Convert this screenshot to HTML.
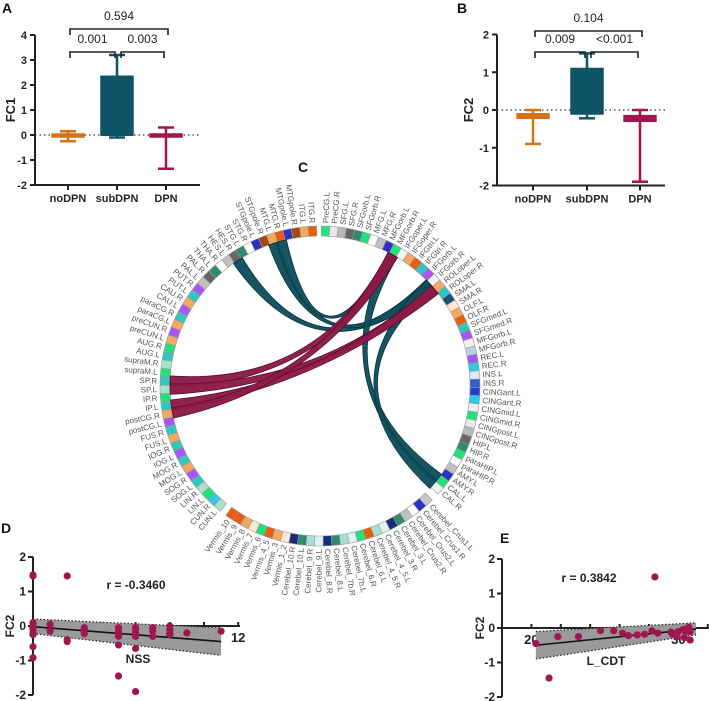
<!DOCTYPE html>
<html><head><meta charset="utf-8">
<style>
html,body{margin:0;padding:0;background:#fff;}
svg{display:block;font-family:"Liberation Sans",Arial,sans-serif;}
.t{font-weight:bold;font-size:11px;fill:#222;}
.ttl{font-weight:bold;font-size:14px;fill:#111;}
.lab{font-size:8px;fill:#555;}
</style></head>
<body>
<svg id="fig" width="709" height="701" viewBox="0 0 709 701" xmlns="http://www.w3.org/2000/svg">
<g id="gA"></g>
<g id="gB"></g>
<g id="gC"></g>
<g id="gD"></g>
<g id="gE"></g>
</svg>
<script>
// ---------- Panel A/B data ----------
const groups = ["noDPN","subDPN","DPN"];
const groupColors = ["#d4731a","#0f5466","#a0174f"];
const fc1Min = [-0.25,-0.1,-1.35];
const fc1Q1 = [-0.1,0.0,-0.05];
const fc1Med = [-0.05,0.0,-0.02];
const fc1Q3 = [0.0,2.35,0.0];
const fc1Max = [0.15,3.2,0.3];
const fc1Ticks = [-2,-1,0,1,2,3,4];
const fc1P = ["0.001","0.003","0.594"];
const fc2Min = [-0.9,-0.22,-1.9];
const fc2Q1 = [-0.22,-0.1,-0.3];
const fc2Med = [-0.15,-0.1,-0.2];
const fc2Q3 = [-0.1,1.1,-0.15];
const fc2Max = [0.0,1.5,0.0];
const fc2Ticks = [-2,-1,0,1,2];
const fc2P = ["0.009","<0.001","0.104"];
// ---------- Panel D/E data ----------
const nssX = [0,0,0,0,0,0,0,0,0,0,1,1,2,2,2,3,3,3,5,5,5,5,5,5,6,6,6,6,6,6,7,7,7,8,8,8,8,9,11];
const nssY = [1.48,1.45,0.1,0.0,-0.05,-0.1,-0.2,-0.25,-0.6,-0.92,0.05,-0.15,1.45,-0.4,-0.45,-0.05,-0.1,-0.22,-0.05,-0.15,-0.2,-0.3,-0.55,-1.45,-0.05,-0.1,-0.2,-0.3,-0.65,-1.9,-0.05,-0.15,-0.3,0.0,-0.1,-0.2,-0.25,-0.2,-0.15];
const nssFit = [[0,-0.02],[11,-0.45]];
const nssBandUp = [[0,0.2],[11,-0.05]];
const nssBandLo = [[0,-0.22],[11,-0.85]];
const nssTicks = [0,2,4,6,8,10,12];
const nssTickLabels = ["","2","4","6","8","10","12"];
const cdtX = [20.3,21.2,21.8,23.2,24.7,25.6,26.2,26.6,27.2,27.7,28.2,28.4,28.6,29.5,29.6,29.9,30.0,30.3,30.4,30.5,30.7,30.8,30.8,30.5];
const cdtY = [-0.45,-1.45,-0.25,-0.25,-0.08,-0.08,-0.15,-0.22,-0.2,-0.18,-0.08,1.48,-0.15,-0.12,-0.18,-0.25,-0.1,-0.05,-0.28,-0.1,0.02,-0.1,-0.35,-0.03];
const cdtFit = [[20.3,-0.5],[31.2,-0.03]];
const cdtBandUp = [[20.3,-0.1],[31.2,0.15]];
const cdtBandLo = [[20.3,-0.9],[31.2,-0.2]];
const cdtTicks = [20,22,24,26,28,30,32];
const cdtTickLabels = ["20","","25","","","30",""];
const yTicksSc = [-2,-1,0,1,2];
// ---------- Panel C data ----------
const rightRegions = ["PreCG.L","PreCG.R","SFG.L","SFG.R","SFGorb.L","SFGorb.R","MFG.L","MFG.R","MFGorb.L","MFGorb.R","IFGoper.L","IFGoper.R","IFGtri.L","IFGtri.R","IFGorb.L","IFGorb.R","ROLoper.L","ROLoper.R","SMA.L","SMA.R","OLF.L","OLF.R","SFGmed.L","SFGmed.R","MFGorb.L","MFGorb.R","REC.L","REC.R","INS.L","INS.R","CINGant.L","CINGant.R","CINGmid.L","CINGmid.R","CINGpost.L","CINGpost.R","HIP.L","HIP.R","paraHIP.L","paraHIP.R","AMY.L","AMY.R","CAL.L","CAL.R"];
const cereRegions = ["Cerebel_Crus1.L","Cerebel_Crus1.R","Cerebel_Crus2.L","Cerebel_Crus2.R","Cerebel_3.L","Cerebel_3.R","Cerebel_4_5.L","Cerebel_4_5.R","Cerebel_6.L","Cerebel_6.R","Cerebel_7b.L","Cerebel_7b.R","Cerebel_8.L","Cerebel_8.R","Cerebel_9.L","Cerebel_9.R","Cerebel_10.L","Cerebel_10.R","Vermis_1_2","Vermis_3","Vermis_4_5","Vermis_6","Vermis_7","Vermis_8","Vermis_9","Vermis_10"];
const leftRegions = ["CUN.L","CUN.R","LIN.L","LIN.R","SOG.L","SOG.R","MOG.L","MOG.R","IOG.L","IOG.R","FUS.L","FUS.R","postCG.L","postCG.R","IP.L","IP.R","SP.L","SP.R","supraM.L","supraM.R","AUG.L","AUG.R","preCUN.L","preCUN.R","paraCG.L","paraCG.R","CAU.L","CAU.R","PUT.L","PUT.R","PAL.L","PAL.R","THA.L","THA.R","HES.L","HES.R","STG.L","STG.R","STGpole.L","STGpole.R","MTG.L","MTG.R","MTGpole.L","MTGpole.R","ITG.L","ITG.R"];
const segColors = ["#1fe37a","#e8e8e8","#b8b8b8","#666666","#2e8b6e","#1fe37a","#ffffff","#c0c0c0","#2e2ec8","#1fe37a","#f0f0f0","#f4a860","#e85d10","#2ec8c0","#a855f7","#f5f5f5","#f4a860","#2ec8c0","#1f4f7a","#ffe8d0","#f4a860","#e85d10","#2ec8c0","#a855f7","#f5f0e8","#b8d0e8","#a855f7","#2ec8e0","#d8e8f8","#3060c0","#2040d0","#20d0e8","#f0f0f0"];
const leftColors = ["#a8e0c8","#2ec8e0","#1fe37a","#a8e0c8","#2ec8c0","#a855f7","#f4a860","#2ec8c0","#a855f7","#2ec8c0","#f4a860","#2ec8c0","#a855f7","#f4a860","#2ec8c0","#1fe37a","#a8e0c8","#2ec8c0","#1fe37a","#a8e0c8","#2ec8c0","#1fe37a","#f4a860","#a855f7","#f4a860","#2ec8c0","#a855f7","#f4a860","#2ec8c0","#a855f7","#c0c0c0","#666666","#2e8b6e","#ffffff","#c0c0c0","#666666","#2e8b6e","#ffffff","#2e2ec8","#a34a10","#f4a860","#e85d10","#2e2ec8","#a34a10","#f4a860","#e85d10"];
const cereColors = ["#c8c8c8","#2e2ec8","#ffffff","#c0c0c0","#2e8b6e","#1a2a7a","#e0f0f0","#a8e0d0","#e85d10","#1fe37a","#e0f0f8","#a8e0d0","#2e8b6e","#1a2a7a","#e0f0f0","#a8e0d0","#2e8b6e","#1a2a7a","#ffe8d0","#f4a860","#e85d10","#1fe37a","#ffe8d0","#f4a860","#e85d10","#e85d10"];
const chordFrom = ["HES.R","MTG.L","MTG.R","MFGorb.R","IFGorb.R","SP.R","SP.L","IP.L","postCG.R"];
const chordTo   = ["IFGorb.R","IFGorb.R","MFGorb.R","CAL.L","CAL.R","MFGorb.R","ROLoper.L","ROLoper.L","MFGorb.R"];
const chordType = [0,0,0,0,0,1,1,1,1];

const NS="http://www.w3.org/2000/svg";
function mk(tag, attrs, parent){const e=document.createElementNS(NS,tag);for(const k in attrs)e.setAttribute(k,attrs[k]);parent.appendChild(e);return e;}
function txt(parent,x,y,s,cls,anchor){const e=mk("text",{x:x,y:y,class:cls,"text-anchor":anchor||"middle"},parent);e.textContent=s;return e;}

function boxPanel(g, cfg){
  const ys=v=>cfg.y0-(v)*cfg.ppu;
  const L=cfg.ax, top=ys(cfg.ticks[cfg.ticks.length-1]), bot=ys(cfg.ticks[0]);
  const t=txt(g,cfg.letterX,cfg.letterY,cfg.letter,"ttl","start");
  
  
  mk("line",{x1:L,y1:top,x2:L,y2:bot,stroke:"#222","stroke-width":2},g);
  mk("line",{x1:L,y1:bot,x2:cfg.xEnd,y2:bot,stroke:"#222","stroke-width":2},g);
  mk("line",{x1:L,y1:ys(0),x2:cfg.xEnd,y2:ys(0),stroke:"#333","stroke-width":1.3,"stroke-dasharray":"1.5,3"},g);
  cfg.ticks.forEach(v=>{mk("line",{x1:L-5,y1:ys(v),x2:L,y2:ys(v),stroke:"#222","stroke-width":2},g);
    const tl=txt(g,L-8,ys(v)+4,String(v),"t","end");
    
    });
  const yl=txt(g,0,0,cfg.ylabel,"t");
  yl.setAttribute("transform",`translate(${cfg.ylabX},${(top+bot)/2}) rotate(-90)`);yl.style.fontSize="13px";
  
  
  groups.forEach((gname,i)=>{
    const x=cfg.cx[i], c=groupColors[i];
    mk("line",{x1:x,y1:bot,x2:x,y2:bot+5,stroke:"#222","stroke-width":2},g);
    const cl=txt(g,x,bot+17,gname,"t");
    
    
    const bg=mk("g",{},g);
    
    
    mk("line",{x1:x,y1:ys(cfg.mx[i]),x2:x,y2:ys(cfg.mn[i]),stroke:c,"stroke-width":2.5},bg);
    mk("line",{x1:x-8,y1:ys(cfg.mx[i]),x2:x+8,y2:ys(cfg.mx[i]),stroke:c,"stroke-width":2.5},bg);
    mk("line",{x1:x-8,y1:ys(cfg.mn[i]),x2:x+8,y2:ys(cfg.mn[i]),stroke:c,"stroke-width":2.5},bg);
    const h=Math.max(ys(cfg.q1[i])-ys(cfg.q3[i]),3);
    mk("rect",{x:x-16,y:ys(cfg.q3[i])-(h<=3?1:0),width:32,height:h,fill:c,stroke:c,"stroke-width":1.5},bg);
    mk("line",{x1:x-16,y1:ys(cfg.med[i]),x2:x+16,y2:ys(cfg.med[i]),stroke:c,"stroke-width":2},bg);
  });
  const br=(x1,x2,y,label,ty)=>{const bg=mk("g",{},g);
    
    
    mk("path",{d:`M${x1},${y+6}V${y}H${x2}V${y+6}`,fill:"none",stroke:"#222","stroke-width":1.6},bg);
    const t=txt(bg,(x1+x2)/2,ty,label,"t");t.style.fontWeight="normal";t.style.fontSize="12px";};
  br(cfg.cx[0]+2,cfg.cx[1]-2,cfg.b1y,cfg.p[0],cfg.b1y-9);
  br(cfg.cx[1]+4,cfg.cx[2]-2,cfg.b1y,cfg.p[1],cfg.b1y-9);
  br(cfg.cx[0]+2,cfg.cx[2]+2,cfg.b2y,cfg.p[2],cfg.b2y-9);
}
boxPanel(document.getElementById("gA"),{letter:"A",letterX:2,letterY:13,y0:135,ppu:25,ax:35,xEnd:200,cx:[68,117,166],ticks:fc1Ticks,ylabel:"FC1",ylabX:15,mn:fc1Min,q1:fc1Q1,med:fc1Med,q3:fc1Q3,mx:fc1Max,p:fc1P,b1y:52,b2y:29});
boxPanel(document.getElementById("gB"),{letter:"B",letterX:457,letterY:13,y0:110,ppu:37.75,ax:497,xEnd:665,cx:[533,587,640],ticks:fc2Ticks,ylabel:"FC2",ylabX:473,mn:fc2Min,q1:fc2Q1,med:fc2Med,q3:fc2Q3,mx:fc2Max,p:fc2P,b1y:52,b2y:31});

function scatter(g,cfg){
  const xs=v=>cfg.ax+(v-cfg.xMin)*cfg.xppu, ys=v=>cfg.y0-v*cfg.ppu;
  const t=txt(g,cfg.letterX,cfg.letterY,cfg.letter,"ttl","start");
  
  
  mk("line",{x1:cfg.ax,y1:ys(2),x2:cfg.ax,y2:ys(-2),stroke:"#222","stroke-width":2},g);
  mk("line",{x1:cfg.ax,y1:ys(0),x2:cfg.xEnd,y2:ys(0),stroke:"#222","stroke-width":2},g);
  yTicksSc.forEach(v=>{mk("line",{x1:cfg.ax-5,y1:ys(v),x2:cfg.ax,y2:ys(v),stroke:"#222","stroke-width":2},g);
    const tl=txt(g,cfg.ax-7,ys(v)+4,String(v),"t","end");tl.style.fontSize="12px";
    
    });
  cfg.xt.forEach((v,i)=>{mk("line",{x1:xs(v),y1:ys(0)-4,x2:xs(v),y2:ys(0),stroke:"#222","stroke-width":2},g);
    if(cfg.xtl[i]){const tl=txt(g,xs(v),ys(0)+16,cfg.xtl[i],"t");tl.style.fontSize="13px";
    
    }});
  const yl=txt(g,0,0,"FC2","t");yl.setAttribute("transform",`translate(${cfg.ylabX},${ys(0)}) rotate(-90)`);yl.style.fontSize="12px";
  
  
  const xl=txt(g,cfg.xlabX,ys(0)+37,cfg.xlabel,"t");xl.style.fontSize="12px";
  
  
  const band=mk("path",{d:`M${xs(cfg.up[0][0])},${ys(cfg.up[0][1])}L${xs(cfg.up[1][0])},${ys(cfg.up[1][1])}L${xs(cfg.lo[1][0])},${ys(cfg.lo[1][1])}L${xs(cfg.lo[0][0])},${ys(cfg.lo[0][1])}Z`,fill:"#9a9a9a"},g);
  
  
  [cfg.up,cfg.lo].forEach(b=>mk("line",{x1:xs(b[0][0]),y1:ys(b[0][1]),x2:xs(b[1][0]),y2:ys(b[1][1]),stroke:"#222","stroke-width":1.2,"stroke-dasharray":"1.5,2"},g));
  const fl=mk("line",{x1:xs(cfg.fit[0][0]),y1:ys(cfg.fit[0][1]),x2:xs(cfg.fit[1][0]),y2:ys(cfg.fit[1][1]),stroke:"#111","stroke-width":1.6},g);
  
  
  cfg.X.forEach((x,i)=>{const c=mk("circle",{cx:xs(x),cy:ys(cfg.Y[i]),r:3.6,fill:"#a0174f"},g);
    
    });
  const rt=txt(g,cfg.rX,cfg.rY,cfg.rText,"t");rt.style.fontSize="12px";
  
  
}
scatter(document.getElementById("gD"),{letter:"D",letterX:1,letterY:533,ax:33,xMin:0,xppu:17.1,xEnd:240,y0:626,ppu:34.5,xt:nssTicks,xtl:nssTickLabels,ylabX:14,xlabel:"NSS",xlabX:138,up:nssBandUp,lo:nssBandLo,fit:nssFit,X:nssX,Y:nssY,rX:136,rY:589,rText:"r = -0.3460"});
scatter(document.getElementById("gE"),{letter:"E",letterX:500,letterY:543,ax:502,xMin:18,xppu:14.7,xEnd:709,y0:628,ppu:34.5,xt:cdtTicks,xtl:cdtTickLabels,ylabX:484,xlabel:"L_CDT",xlabX:606,up:cdtBandUp,lo:cdtBandLo,fit:cdtFit,X:cdtX,Y:cdtY,rX:589,rY:582,rText:"r = 0.3842"});

(function(){
  const g=document.getElementById("gC"), CX=320, CY=386, R1=150, R2=160;
  const ct=txt(g,303,172,"C","ttl");
  
  
  const P=(a,r)=>[CX+r*Math.cos(a*Math.PI/180),CY+r*Math.sin(a*Math.PI/180)];
  const segs={};
  const addGroup=(names,cols,start,step)=>names.forEach((n,i)=>{
    const a=start+i*step, a1=a-step/2, a2=a+step/2;
    if(!segs[n]) segs[n]=[a1,a2]; else segs[n+"_b"]=[a1,a2];
    const p1=P(a1,R1),p2=P(a2,R1),p3=P(a2,R2),p4=P(a1,R2);
    const s=mk("path",{d:`M${p1}A${R1},${R1} 0 0 1 ${p2}L${p3}A${R2},${R2} 0 0 0 ${p4}Z`,fill:cols[i%cols.length],stroke:"#9a9a9a","stroke-width":0.6},g);
    
    
    const lp=P(a,R2+3);let rot=a, anc="start";
    if(a>90&&a<270){rot=a+180;anc="end";}
    const t=mk("text",{x:0,y:0,class:"lab","text-anchor":anc,transform:`translate(${lp[0]},${lp[1]}) rotate(${rot}) translate(0,2.8)`},g);
    t.textContent=n;
    
    
  });
  addGroup(rightRegions,segColors,-88,3.0);
  addGroup(cereRegions,cereColors,47,3.1);
  addGroup(leftRegions,leftColors,130,3.05);
  const fills=["#0e4f5c","#8c1b47"], strokes=["#07323b","#5a0f2c"];
  chordFrom.forEach((f,i)=>{
    const A=segs[f],B=segs[chordTo[i]];if(!A||!B)return;
    const am=(A[0]+A[1])/2, bm=(B[0]+B[1])/2, w=2.0;
    const pa1=P(am-w,R1),pa2=P(am+w,R1),pb1=P(bm-w,R1),pb2=P(bm+w,R1);
    const c=[CX,CY];
    const d=`M${pa1}A${R1},${R1} 0 0 1 ${pa2}Q${c} ${pb1}A${R1},${R1} 0 0 1 ${pb2}Q${c} ${pa1}Z`;
    const ch=mk("path",{d:d,fill:fills[chordType[i]],stroke:strokes[chordType[i]],"stroke-width":0.8,"fill-opacity":0.97},g);
    
    
  });
})();
</script>
</body></html>
